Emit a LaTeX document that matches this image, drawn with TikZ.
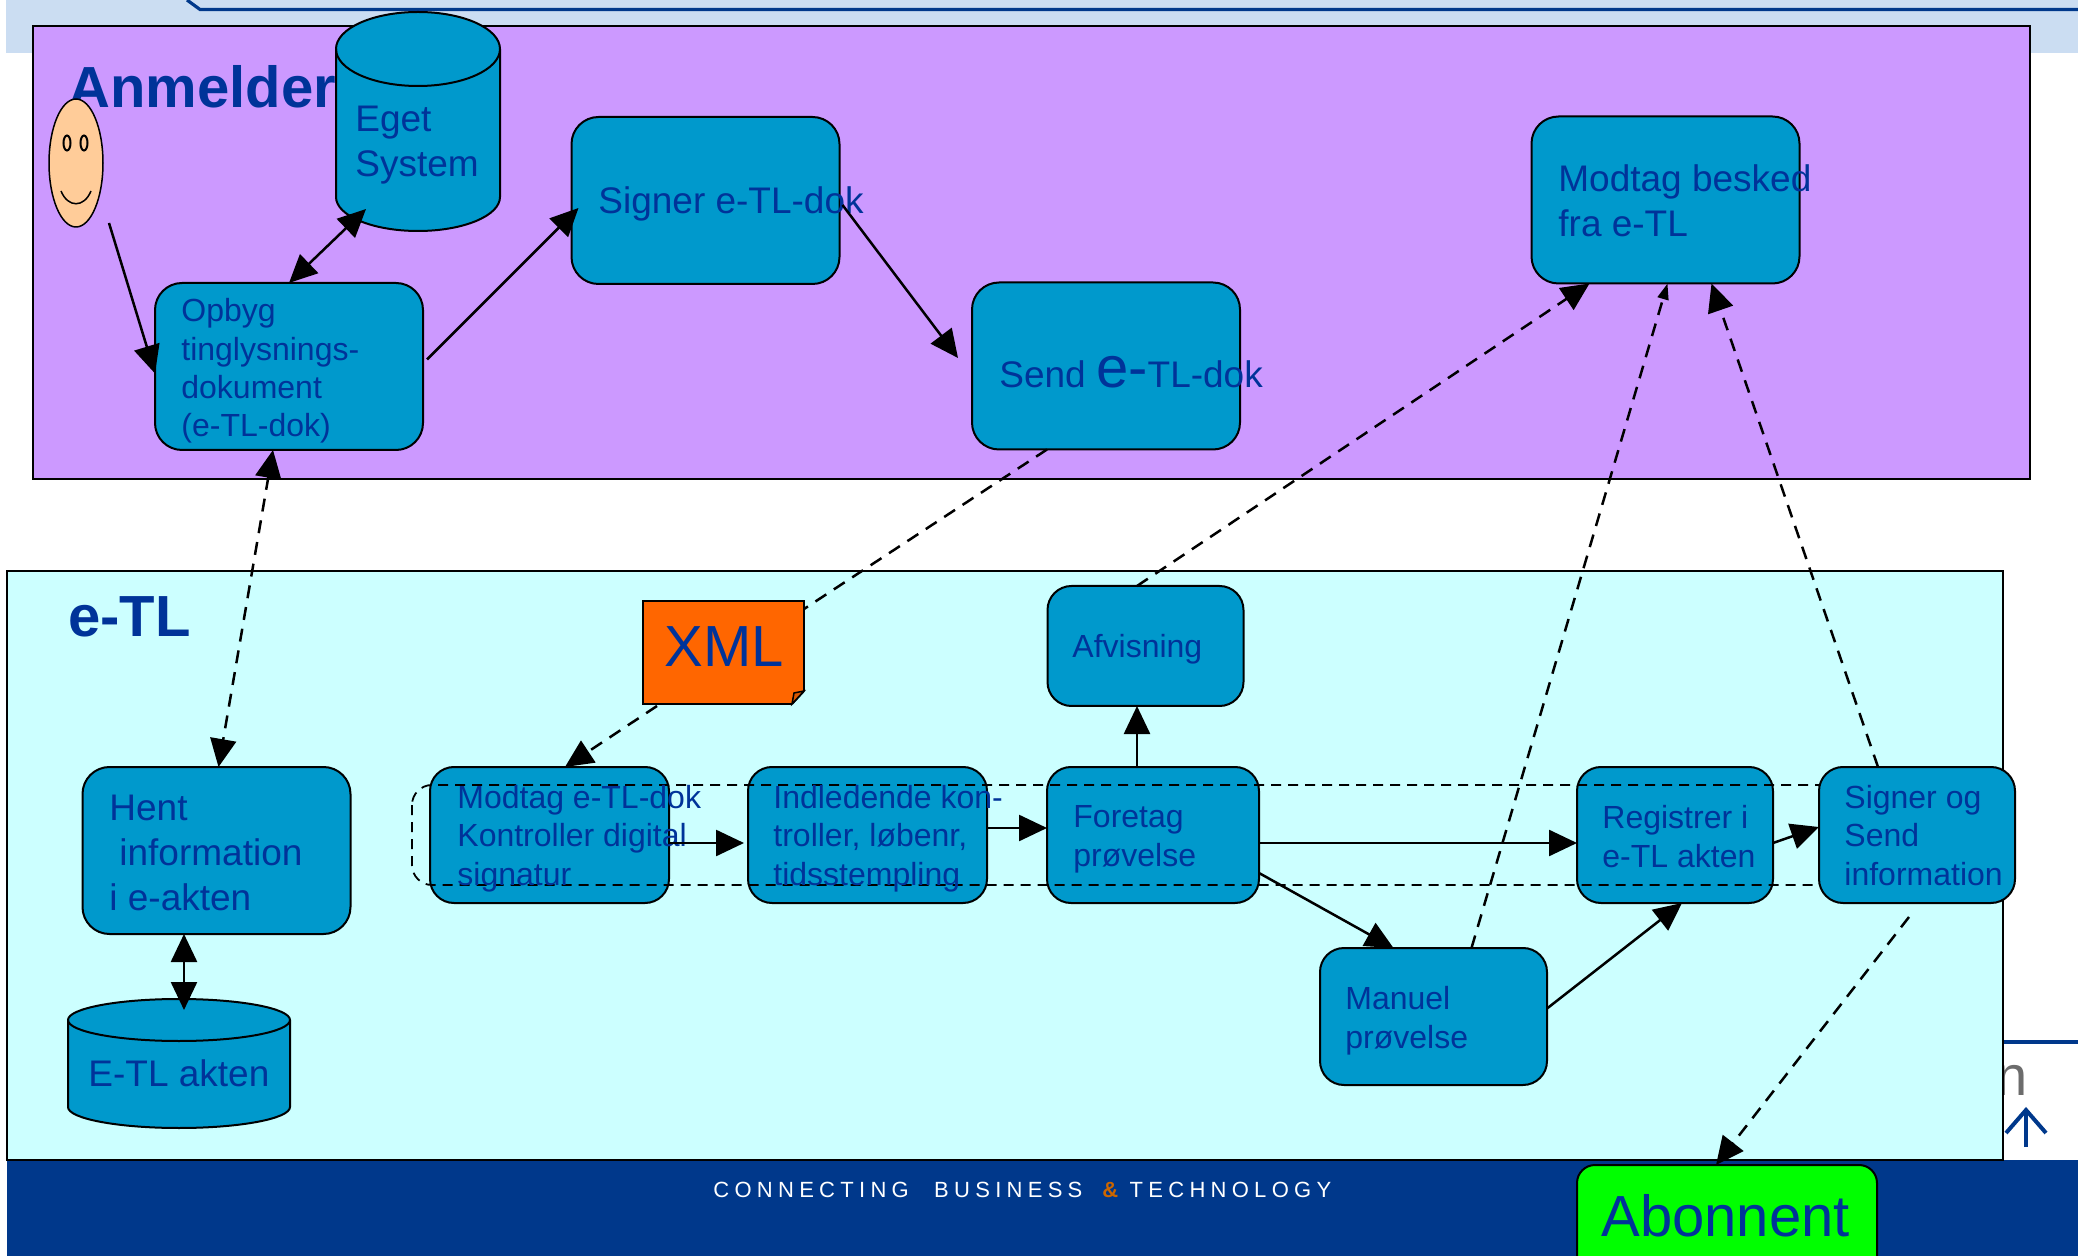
\documentclass[tikz,border=0pt]{standalone}
\usepackage{fontspec}
\setmainfont{Liberation Sans}
\newfontfamily\footfont[LetterSpace=24]{Liberation Sans}
\usepackage{tikz}
\usetikzlibrary{shapes, shapes.geometric, arrows.meta, positioning}
\definecolor{bandblue}{HTML}{CBDDF2}
\definecolor{navyblue}{HTML}{00388B}
\definecolor{inkblue}{HTML}{003399}
\definecolor{boxblue}{HTML}{0099CC}
\definecolor{anmelderbg}{HTML}{CC99FF}
\definecolor{etlbg}{HTML}{CCFFFF}
\definecolor{noteorange}{HTML}{FF6600}
\definecolor{faceskin}{HTML}{FFCC99}
\tikzset{
  etlbox/.style={draw=black, fill=boxblue, line width=1pt, rounded corners=12pt, inner sep=0pt, outer sep=0pt},
  bigbox/.style={etlbox, rounded corners=13.5pt, minimum width=134pt, minimum height=83.5pt},
  smallbox/.style={etlbox, minimum width=98pt, minimum height=68pt},
  dbarea/.style={inner sep=0pt, outer sep=0pt},
  dbbody/.style={draw=black, fill=boxblue, line width=1pt},
  etltext/.style={anchor=base west, inner sep=0pt, align=left, text=inkblue, font=\fontsize{16}{19.2}\selectfont},
  etltextbig/.style={etltext, font=\fontsize{18.5}{22.5}\selectfont},
  etltitle/.style={etltext, font=\fontsize{29}{34}\selectfont\bfseries},
  flow/.style={->, line width=1.25pt},
  flowdash/.style={flow, dash pattern=on 6.5pt off 4.5pt},
}
\begin{document}
\begin{tikzpicture}[x=0.5pt, y=-0.5pt, >={Triangle[length=14pt,width=13pt]}]
  \clip (0,0) rectangle (2078,1256);
  % slide behind
  \fill[bandblue] (6,0) rectangle (2078,53);
  \draw[navyblue, line width=1.6pt] (187,0) -- (200,9.5) -- (2078,9.5);
  \draw[navyblue, line width=1.6pt] (2003,1042) -- (2078,1042);
  \node[anchor=base east, inner sep=0pt, text=gray!85!black, font=\fontsize{28}{28}\selectfont] (hiddenn) at (2028,1095) {n};
  \draw[navyblue, line width=2pt] (2026,1147) -- (2026,1110);
  \draw[navyblue, line width=2pt] (2006,1133) -- (2026,1110) -- (2046,1133);
  \fill[navyblue] (7,1160) rectangle (2078,1256);
  \node[anchor=base west, inner sep=0pt, text=white, font=\fontsize{11}{13}\footfont] (tagline) at (713,1197)
  {CONNECTING\hspace{7pt} BUSINESS\hspace{4.3pt} {\color{orange!80!black}\bfseries\&} TECHNOLOGY};

  % zones
  \draw[fill=anmelderbg, line width=1pt] (33,26) rectangle (2030,479);
  \draw[fill=etlbg, line width=1pt] (7,571) rectangle (2003,1160);
  \node[etltitle] (anmeldertxt) at (68,108) {Anmelder};
  \node[etltitle] (etltxt) at (68,637) {e-TL};

  % anmelder
  \node[ellipse, draw=black, fill=faceskin, line width=0.75pt, inner sep=0pt, outer sep=0pt, minimum width=27pt, minimum height=64pt] (smiley) at (76,163) {};
  \foreach \x in {67,84}
  \node[ellipse, draw=black, line width=1pt, inner sep=0pt, minimum width=3.5pt, minimum height=7.5pt] (eye\x) at (\x,143) {};
  \draw[line width=0.75pt] (61,191) .. controls (68,208) and (84,208) .. (91,191);

  \node[dbarea, minimum width=82pt, minimum height=109.5pt] (eget) at (418,121.5) {};
  \path[dbbody] ([yshift=-18.5pt]eget.north west) -- ([yshift=17pt]eget.south west)
  arc[start angle=180, end angle=360, x radius=41pt, y radius=17pt]
  -- ([yshift=-18.5pt]eget.north east)
  arc[start angle=0, end angle=180, x radius=41pt, y radius=18.5pt] -- cycle;
  \draw[dbbody, fill=none] ([yshift=-18.5pt]eget.north west)
  arc[start angle=180, end angle=360, x radius=41pt, y radius=18.5pt];
  \node[etltextbig] (egettxt) at (355,177) {Eget\\System};
  \node[bigbox] (opbyg) at (289,366.5) {};
  \node[etltext] (opbygtxt) at (181,437) {Opbyg\\tinglysnings-\\dokument\\(e-TL-dok)};
  \node[bigbox] (signer) at (705.5,200.5) {};
  \node[etltextbig] (signertxt) at (598,214) {Signer e-TL-dok};
  \node[bigbox] (send) at (1106,366) {};
  \node[etltextbig] (sendtxt) at (999,388) {Send {\fontsize{29}{29}\selectfont e-}TL-dok};
  \node[bigbox] (besked) at (1665.5,200) {};
  \node[etltextbig] (beskedtxt) at (1558,237) {Modtag besked\\fra e-TL};

  % e-TL
  \node[bigbox] (hent) at (216.5,850.5) {};
  \node[etltextbig] (henttxt) at (109,910) {Hent\\\hspace*{5pt}information\\i e-akten};
  \node[dbarea, minimum width=111pt, minimum height=64.5pt] (akten) at (179,1063.5) {};
  \path[dbbody] ([yshift=-10.5pt]akten.north west) -- ([yshift=10.5pt]akten.south west)
  arc[start angle=180, end angle=360, x radius=55.5pt, y radius=10.5pt]
  -- ([yshift=-10.5pt]akten.north east)
  arc[start angle=0, end angle=180, x radius=55.5pt, y radius=10.5pt] -- cycle;
  \draw[dbbody, fill=none] ([yshift=-10.5pt]akten.north west)
  arc[start angle=180, end angle=360, x radius=55.5pt, y radius=10.5pt];
  \node[etltextbig] (aktentxt) at (88,1086) {E-TL akten};

  \node[smallbox, minimum width=119.5pt] (modtag) at (549.5,835) {};
  \node[smallbox, minimum width=119.5pt] (indl) at (867.5,835) {};
  \node[smallbox, minimum width=106pt] (foretag) at (1153,835) {};
  \node[smallbox] (registrer) at (1675,835) {};
  \node[smallbox, minimum height=60pt] (afvisning) at (1145.5,646) {};
  \node[smallbox, minimum width=113.5pt, minimum height=68.5pt] (manuel) at (1433.5,1016.5) {};

  \draw[dash pattern=on 5pt off 3.5pt, line width=0.9pt, rounded corners=10pt] (412,785) rectangle (1900,885);
  \node[smallbox] (signog) at (1917,835) {};

  \node[etltext] (modtagtxt) at (457,885) {Modtag e-TL-dok\\Kontroller digital\\signatur};
  \node[etltext] (indltxt) at (773,885) {Indledende kon-\\troller, løbenr,\\tidsstempling};
  \node[etltext] (foretagtxt) at (1073,866) {Foretag\\prøvelse};
  \node[etltext] (registrertxt) at (1602,867) {Registrer i\\e-TL akten};
  \node[etltext] (signogtxt) at (1844,885) {Signer og\\Send\\information};
  \node[etltext] (afvisningtxt) at (1072,658) {Afvisning};
  \node[etltext] (manueltxt) at (1345,1048) {Manuel\\prøvelse};

  \node[draw=black, fill=noteorange, line width=1pt, inner sep=0pt, outer sep=0pt, minimum width=80.5pt, minimum height=51.5pt] (xml) at (723.5,652.5) {};
  \fill[etlbg] (805,690) -- (805,705) -- (791,705) -- cycle;
  \draw[line width=1pt] (804,691) -- (792,704);
  \draw[fill=noteorange!85!black, line width=0.75pt] (804,691) -- (794,693) -- (792,704) -- cycle;
  \node[etltitle, font=\fontsize{29}{34}\selectfont] (xmltxt) at (664,667) {XML};

  \node[etlbox, fill=green, rounded corners=9pt, minimum width=150pt, minimum height=100pt] (abonnent) at (1727,1265) {};
  \node[etltitle, font=\fontsize{29}{34}\selectfont] (abonnenttxt) at (1601,1236) {Abonnent};

  % connectors
  \draw[flow] ([shift={(16.5pt,2pt)}]smiley.south) -- ([yshift=-3.5pt]opbyg.west);
  \draw[flow, <->] ([shift={(-26pt,11pt)}]eget.south) -- (opbyg.north);
  \draw[flow] ([shift={(2pt,3.5pt)}]opbyg.east) -- ([shift={(3.5pt,-3.75pt)}]signer.west);
  \draw[flow] ([shift={(1.5pt,-2.25pt)}]signer.east) -- ([shift={(-7pt,4pt)}]send.west);
  \draw[flowdash, -] ([xshift=-29.5pt]send.south) -- ([yshift=-4pt]xml.north east);
  \draw[flowdash] ([shift={(7pt,-1pt)}]xml.south west) -- ([xshift=7.75pt]modtag.north);
  \draw[flowdash, <->] ([xshift=-8pt]opbyg.south) -- ([xshift=1pt]hent.north);
  \draw[flow, <->] ([xshift=-16.25pt]hent.south) -- ([shift={(2.5pt,-5.5pt)}]akten.north);
  \draw[flow] ([yshift=-4pt]modtag.east) -- ([shift={(-2pt,-4pt)}]indl.west);
  \draw[flow] ([yshift=3.5pt]indl.east) -- ([yshift=3.5pt]foretag.west);
  \draw[flow] ([xshift=-8pt]foretag.north) -- ([xshift=-4.25pt]afvisning.south);
  \draw[flow] ([yshift=-4pt]foretag.east) -- ([yshift=-4pt]registrer.west);
  \draw[flow] ([yshift=-19pt]foretag.east) -- ([xshift=-20pt]manuel.north);
  \draw[flow] ([yshift=4pt]manuel.east) -- ([xshift=3.5pt]registrer.south);
  \draw[flow] ([yshift=-4pt]registrer.east) -- ([yshift=4pt]signog.west);
  \draw[flowdash, >={Triangle[length=8pt,width=5.5pt]}] ([xshift=19pt]manuel.north) -- ([xshift=1pt]besked.south);
  \draw[flowdash] ([xshift=-4.25pt]afvisning.north) -- ([xshift=-38pt]besked.south);
  \draw[flowdash] ([xshift=-19.5pt]signog.north) -- ([xshift=23pt]besked.south);
  \draw[flowdash] ([shift={(-4pt,-7pt)}]signog.south) -- ([xshift=-5.5pt]abonnent.north);
\end{tikzpicture}
\end{document}
